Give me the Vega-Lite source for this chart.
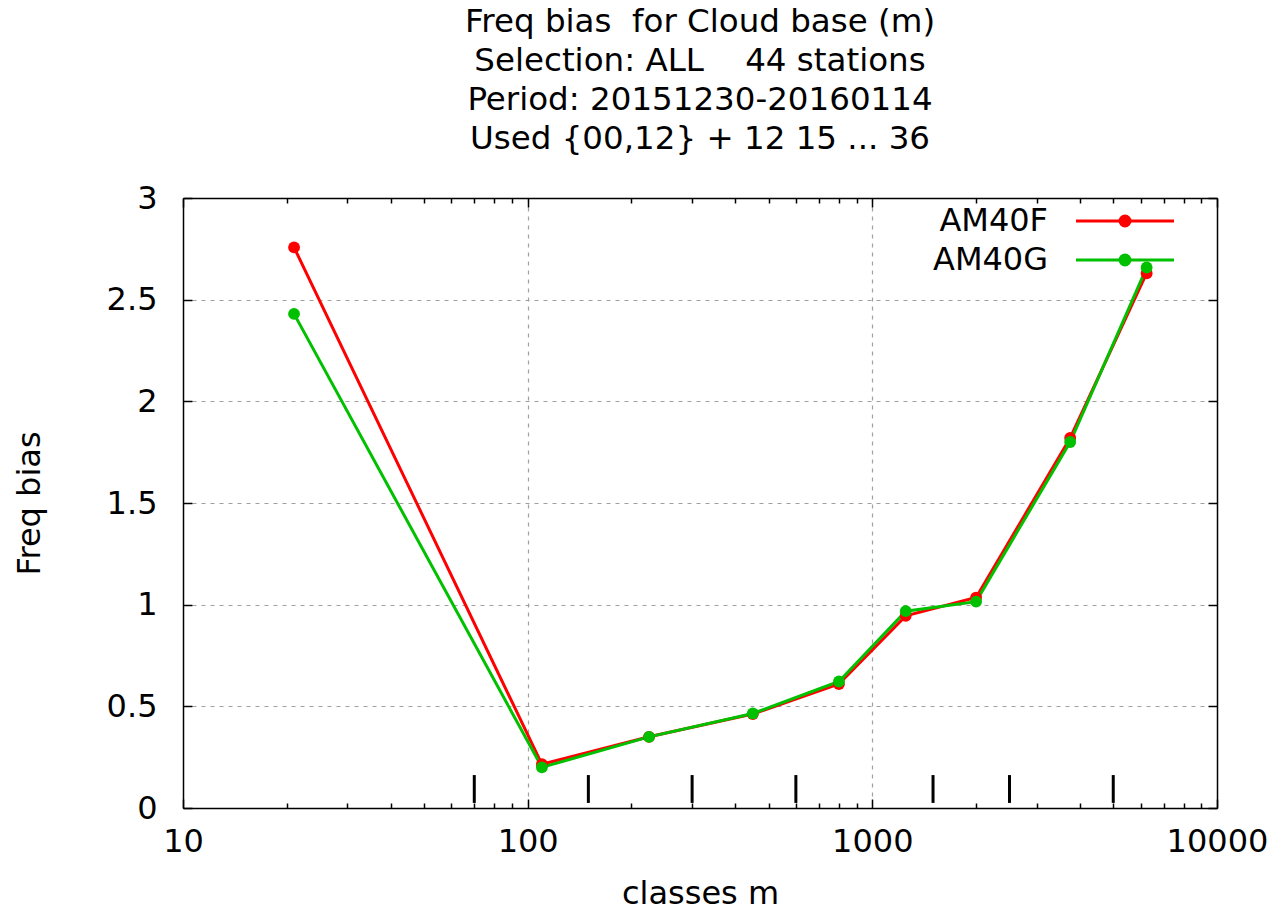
{
  "$schema": "https://vega.github.io/schema/vega-lite/v6.json",
  "width": 1034,
  "height": 610,
  "autosize": {"type": "none"},
  "padding": {"left": 183, "top": 198, "right": 55, "bottom": 106},
  "background": "white",
  "config": {
    "font": "DejaVu Sans",
    "view": {"stroke": null},
    "axis": {
      "labelFont": "DejaVu Sans",
      "labelFontSize": 32,
      "labelColor": "black",
      "titleFont": "DejaVu Sans",
      "titleFontSize": 32,
      "titleFontWeight": "normal",
      "titleColor": "black",
      "domainColor": "black",
      "domainWidth": 1.5,
      "tickColor": "black",
      "tickWidth": 1.5,
      "gridColor": "#a0a0a0",
      "gridDash": [4, 5],
      "gridWidth": 1.2
    },
    "legend": {
      "labelFont": "DejaVu Sans",
      "labelFontSize": 32,
      "labelColor": "black"
    }
  },
  "title": {
    "text": [
      "Freq bias\u00a0 for Cloud base (m)",
      "\u00a0Selection: ALL\u00a0\u00a0\u00a0\u00a044 stations",
      "\u00a0Period: 20151230-20160114",
      "\u00a0Used {00,12} + 12 15 ... 36"
    ],
    "font": "DejaVu Sans",
    "fontSize": 32.5,
    "fontWeight": "normal",
    "color": "black",
    "lineHeight": 39,
    "anchor": "middle",
    "frame": "group",
    "offset": 27
  },
  "datasets": {
    "bias": [
      {"x": 21, "model": "AM40F", "bias": 2.757},
      {"x": 110, "model": "AM40F", "bias": 0.215},
      {"x": 225, "model": "AM40F", "bias": 0.35},
      {"x": 450, "model": "AM40F", "bias": 0.462},
      {"x": 800, "model": "AM40F", "bias": 0.61},
      {"x": 1250, "model": "AM40F", "bias": 0.945},
      {"x": 2000, "model": "AM40F", "bias": 1.035},
      {"x": 3750, "model": "AM40F", "bias": 1.82},
      {"x": 6250, "model": "AM40F", "bias": 2.63},
      {"x": 21, "model": "AM40G", "bias": 2.43},
      {"x": 110, "model": "AM40G", "bias": 0.2},
      {"x": 225, "model": "AM40G", "bias": 0.35},
      {"x": 450, "model": "AM40G", "bias": 0.465},
      {"x": 800, "model": "AM40G", "bias": 0.622},
      {"x": 1250, "model": "AM40G", "bias": 0.968},
      {"x": 2000, "model": "AM40G", "bias": 1.015},
      {"x": 3750, "model": "AM40G", "bias": 1.8},
      {"x": 6250, "model": "AM40G", "bias": 2.658}
    ],
    "bounds": [
      {"x": 70}, {"x": 150}, {"x": 300}, {"x": 600},
      {"x": 1500}, {"x": 2500}, {"x": 5000}
    ]
  },
  "layer": [
    {
      "data": {"name": "bias"},
      "mark": {"type": "line", "strokeWidth": 3, "point": {"filled": true, "size": 140, "shape": "circle"}},
      "encoding": {
        "x": {
          "field": "x",
          "type": "quantitative",
          "scale": {"type": "log", "domain": [10, 10000], "nice": false},
          "axis": {
            "orient": "bottom",
            "title": "classes m",
            "titlePadding": 17,
            "values": [10, 20, 30, 40, 50, 60, 70, 80, 90, 100, 200, 300, 400, 500, 600, 700, 800, 900, 1000, 2000, 3000, 4000, 5000, 6000, 7000, 8000, 9000, 10000],
            "format": "d",
            "labelExpr": "indexof([10,100,1000,10000], datum.value) >= 0 ? datum.label : ''",
            "labelPadding": 27,
            "labelFlush": false,
            "labelOverlap": false,
            "tickSize": {"condition": {"test": "indexof([10,100,1000,10000], datum.value) >= 0", "value": -9}, "value": -5},
            "grid": true,
            "gridOpacity": {"condition": {"test": "indexof([100,1000], datum.value) >= 0", "value": 1}, "value": 0}
          }
        },
        "y": {
          "field": "bias",
          "type": "quantitative",
          "scale": {"domain": [0, 3], "nice": false},
          "axis": {
            "orient": "left",
            "title": "Freq bias",
            "titlePadding": 60,
            "values": [0, 0.5, 1, 1.5, 2, 2.5, 3],
            "format": "~g",
            "tickSize": -9,
            "labelPadding": 35,
            "grid": true
          }
        },
        "color": {
          "field": "model",
          "type": "nominal",
          "scale": {"domain": ["AM40F", "AM40G"], "range": ["#ff0000", "#00c000"]},
          "legend": {
            "title": null,
            "orient": "none",
            "legendX": 926,
            "legendY": 7,
            "padding": 0,
            "rowPadding": 7,
            "symbolType": "M-4.9,0L4.9,0M-0.5,0A0.5,0.5,0,1,0,0.5,0A0.5,0.5,0,1,0,-0.5,0Z",
            "symbolSize": 400,
            "symbolStrokeWidth": 3,
            "labelAlign": "right",
            "labelOffset": -93,
            "encode": {
              "symbols": {"update": {"fill": {"scale": "color", "field": "value"}, "stroke": {"scale": "color", "field": "value"}, "fillOpacity": {"value": 1}}}
            }
          }
        }
      }
    },
    {
      "data": {"name": "bounds"},
      "mark": {"type": "rule", "color": "black", "strokeWidth": 3},
      "encoding": {
        "x": {
          "field": "x",
          "type": "quantitative",
          "axis": {
            "orient": "top",
            "title": null,
            "values": [10, 20, 30, 40, 50, 60, 70, 80, 90, 100, 200, 300, 400, 500, 600, 700, 800, 900, 1000, 2000, 3000, 4000, 5000, 6000, 7000, 8000, 9000, 10000],
            "labels": false,
            "grid": false,
            "tickSize": {"condition": {"test": "indexof([10,100,1000,10000], datum.value) >= 0", "value": -9}, "value": -5}
          }
        },
        "y": {
          "datum": 0.025,
          "type": "quantitative",
          "axis": {
            "orient": "right",
            "title": null,
            "values": [0, 0.5, 1, 1.5, 2, 2.5, 3],
            "labels": false,
            "grid": false,
            "tickSize": -9
          }
        },
        "y2": {"datum": 0.162}
      }
    }
  ],
  "resolve": {"axis": {"x": "independent", "y": "independent"}}
}
